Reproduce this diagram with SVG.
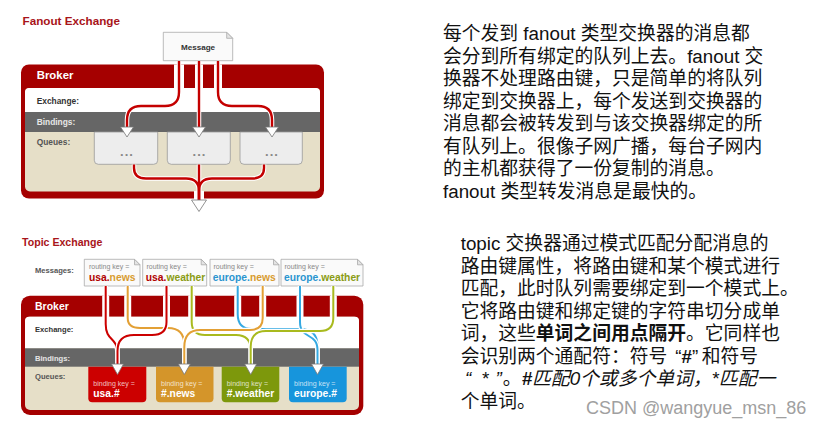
<svg xmlns="http://www.w3.org/2000/svg" width="828" height="430" viewBox="0 0 828 430">
<style>
.s{font-family:"Liberation Sans",Arial,sans-serif}
.ttl{font-family:"Liberation Sans",Arial,sans-serif;font-weight:bold;fill:#a8141a}
.lbl{font-family:"Liberation Sans",Arial,sans-serif;font-weight:bold}
.dots{font-family:"Liberation Sans",Arial,sans-serif;font-weight:bold;font-size:13px;fill:#888;letter-spacing:1px}
.cn{font-family:"Liberation Sans","Noto Sans CJK SC",sans-serif;font-size:18.8px;fill:#111}
.case{fill:none;stroke:#fff;stroke-width:4.5}
.fl{fill:none;stroke:#c40000;stroke-width:2.4}
.tl{fill:none;stroke-width:2}
.arr{fill:#fff;stroke:#777;stroke-width:0.8}
.gap{fill:#fff}
.msg{fill:#fafafa;stroke:#aaa;stroke-width:0.8}
.ear{fill:#e4e4e4;stroke:#aaa;stroke-width:0.8}
.rk{font-family:"Liberation Sans",Arial,sans-serif;font-size:7px;fill:#888}
.mk{font-family:"Liberation Sans",Arial,sans-serif;font-size:10.3px;font-weight:bold}
.bk{font-family:"Liberation Sans",Arial,sans-serif;font-size:7px;fill:#fff;fill-opacity:0.75}
.bv{font-family:"Liberation Sans",Arial,sans-serif;font-size:10.3px;font-weight:bold;fill:#fff}
</style>

<!-- ===== Fanout Exchange ===== -->
<g id="fanout-title"><text class="ttl" x="22.5" y="25.3" font-size="11.7">Fanout Exchange</text></g>

<g id="fanout-broker">
  <rect x="21" y="64.5" width="303" height="134" rx="8" fill="#a50000"/>
  <rect x="25" y="88" width="295" height="103.5" rx="5" fill="#e6dfc8"/>
  <path d="M25,112 V92 Q25,88 29,88 H316 Q320,88 320,92 V112 Z" fill="#fff"/>
  <rect x="25" y="112" width="295" height="20" fill="#666"/>
  <rect class="gap" x="174" y="64.5" width="10" height="24"/>
  <rect class="gap" x="195" y="64.5" width="8" height="24"/>
  <rect class="gap" x="214" y="64.5" width="8" height="24"/>
  <rect class="gap" x="194" y="191" width="10" height="8"/>
  <text class="lbl" x="36.7" y="79" font-size="11.4" fill="#fff">Broker</text>
  <text class="lbl" x="36.7" y="104.3" font-size="8.4" fill="#333">Exchange:</text>
  <text class="lbl" x="36.7" y="125" font-size="8.4" fill="#e6e6e6">Bindings:</text>
  <text class="lbl" x="36.7" y="145" font-size="8.4" fill="#555">Queues:</text>
</g>

<g id="fanout-message">
  <path class="msg" d="M163.3,32.3 H226.7 L232.7,38.3 V60.7 H163.3 Z"/>
  <path class="ear" d="M226.7,32.3 V38.3 H232.7 Z"/>
  <text class="lbl" x="198" y="49.5" font-size="8.1" fill="#333" text-anchor="middle">Message</text>
</g>

<g id="fanout-queue-1">
  <path d="M94.3,132 H157.7 V160.3 Q157.7,164.3 153.7,164.3 H98.3 Q94.3,164.3 94.3,160.3 Z" fill="#ededed" stroke="#999" stroke-width="0.8"/>
  <text class="dots" x="127" y="155.5" text-anchor="middle">...</text>
</g>
<g id="fanout-queue-2">
  <path d="M167.3,132 H230.3 V160.3 Q230.3,164.3 226.3,164.3 H171.3 Q167.3,164.3 167.3,160.3 Z" fill="#ededed" stroke="#999" stroke-width="0.8"/>
  <text class="dots" x="199.5" y="155.5" text-anchor="middle">...</text>
</g>
<g id="fanout-queue-3">
  <path d="M240,132 H302.3 V160.3 Q302.3,164.3 298.3,164.3 H244 Q240,164.3 240,160.3 Z" fill="#ededed" stroke="#999" stroke-width="0.8"/>
  <text class="dots" x="272" y="155.5" text-anchor="middle">...</text>
</g>

<g id="fanout-connectors">
  <path class="case" d="M179,61 V92 Q179,106 165,106 H141 Q127,106 127,120 V128"/>
  <path class="fl" d="M179,61 V92 Q179,106 165,106 H141 Q127,106 127,120 V128"/>
  <path class="case" d="M199,61 V128"/>
  <path class="fl" d="M199,61 V128"/>
  <path class="case" d="M218,61 V92 Q218,106 232,106 H258 Q272,106 272,120 V128"/>
  <path class="fl" d="M218,61 V92 Q218,106 232,106 H258 Q272,106 272,120 V128"/>
  <path class="case" d="M134,164.5 V168 Q134,178.5 146,178.5 H186 Q199,178.5 199,191 V201"/>
  <path class="case" d="M264,164.5 V168 Q264,178.5 252,178.5 H212 Q199,178.5 199,191 V201"/>
  <path class="case" d="M199,164.5 V201"/>
  <path class="fl" d="M134,164.5 V168 Q134,178.5 146,178.5 H186 Q199,178.5 199,191 V201"/>
  <path class="fl" d="M264,164.5 V168 Q264,178.5 252,178.5 H212 Q199,178.5 199,191 V201"/>
  <path class="fl" d="M199,164.5 V201"/>
  <path class="arr" d="M120.5,127 H133.5 L127,137 Z"/>
  <path class="arr" d="M192.5,127 H205.5 L199,137 Z"/>
  <path class="arr" d="M265.5,127 H278.5 L272,137 Z"/>
  <path class="arr" d="M191.5,200 H206.5 L199,211.5 Z"/>
</g>

<!-- ===== Topic Exchange ===== -->
<g id="topic-title"><text class="ttl" x="22" y="246" font-size="10.6">Topic Exchange</text></g>
<g id="topic-messages-label"><text class="lbl" x="35" y="273.4" font-size="7.6" fill="#555">Messages:</text></g>

<g id="topic-broker">
  <rect x="21" y="295.7" width="342.3" height="119.3" rx="9" fill="#a50000"/>
  <rect x="25" y="316.7" width="334" height="93.3" rx="5" fill="#e6dfc8"/>
  <path d="M25,348.3 V320.7 Q25,316.7 29,316.7 H355 Q359,316.7 359,320.7 V348.3 Z" fill="#fff"/>
  <rect x="25" y="348.3" width="334" height="18.4" fill="#666"/>
  <rect class="gap" x="102.2" y="295.7" width="7" height="21.5"/>
  <rect class="gap" x="124.2" y="295.7" width="7" height="21.5"/>
  <rect class="gap" x="163" y="295.7" width="7" height="21.5"/>
  <rect class="gap" x="188.2" y="295.7" width="7" height="21.5"/>
  <rect class="gap" x="234.2" y="295.7" width="7" height="21.5"/>
  <rect class="gap" x="259.2" y="295.7" width="7" height="21.5"/>
  <rect class="gap" x="296.5" y="295.7" width="7" height="21.5"/>
  <rect class="gap" x="329.8" y="295.7" width="7" height="21.5"/>
  <text class="lbl" x="35" y="309.5" font-size="10.5" fill="#fff">Broker</text>
  <text class="lbl" x="35" y="332.4" font-size="7.6" fill="#333">Exchange:</text>
  <text class="lbl" x="35" y="360.6" font-size="7.6" fill="#e6e6e6">Bindings:</text>
  <text class="lbl" x="35" y="379.4" font-size="7.6" fill="#555">Queues:</text>
</g>

<g id="msg-usa-news">
  <path class="msg" d="M84.3,259.3 H134.5 L140,264.8 V286 H84.3 Z"/>
  <path class="ear" d="M134.5,259.3 V264.8 H140 Z"/>
  <text class="rk" x="89" y="269.3">routing key =</text>
  <text class="mk" x="89" y="281"><tspan fill="#b00000">usa.</tspan><tspan fill="#d89c30">news</tspan></text>
</g>
<g id="msg-usa-weather">
  <path class="msg" d="M142.7,259.3 H201.2 L206.7,264.8 V286 H142.7 Z"/>
  <path class="ear" d="M201.2,259.3 V264.8 H206.7 Z"/>
  <text class="rk" x="146.5" y="269.3">routing key =</text>
  <text class="mk" x="145.8" y="281"><tspan fill="#b00000">usa.</tspan><tspan fill="#8a9c14">weather</tspan></text>
</g>
<g id="msg-europe-news">
  <path class="msg" d="M210,259.3 H273.5 L279,264.8 V286 H210 Z"/>
  <path class="ear" d="M273.5,259.3 V264.8 H279 Z"/>
  <text class="rk" x="213.5" y="269.3">routing key =</text>
  <text class="mk" x="212.7" y="281"><tspan fill="#2a95d0">europe.</tspan><tspan fill="#d89c30">news</tspan></text>
</g>
<g id="msg-europe-weather">
  <path class="msg" d="M281,259.3 H357.5 L363,264.8 V286 H281 Z"/>
  <path class="ear" d="M357.5,259.3 V264.8 H363 Z"/>
  <text class="rk" x="284.5" y="269.3">routing key =</text>
  <text class="mk" x="284" y="281"><tspan fill="#2a95d0">europe.</tspan><tspan fill="#8a9c14">weather</tspan></text>
</g>

<g id="queue-usa">
  <path d="M88.3,366.7 H146.3 V398.3 Q146.3,402.3 142.3,402.3 H92.3 Q88.3,402.3 88.3,398.3 Z" fill="#cc0000"/>
  <text class="bk" x="93.3" y="385.7">binding key =</text>
  <text class="bv" x="93.3" y="396.5">usa.#</text>
</g>
<g id="queue-news">
  <path d="M156,366.7 H213.5 V398.3 Q213.5,402.3 209.5,402.3 H160 Q156,402.3 156,398.3 Z" fill="#d4952a"/>
  <text class="bk" x="161" y="385.7">binding key =</text>
  <text class="bv" x="161" y="396.5">#.news</text>
</g>
<g id="queue-weather">
  <path d="M221.7,366.7 H279.3 V398.3 Q279.3,402.3 275.3,402.3 H225.7 Q221.7,402.3 221.7,398.3 Z" fill="#7d980c"/>
  <text class="bk" x="226.7" y="385.7">binding key =</text>
  <text class="bv" x="226.7" y="396.5">#.weather</text>
</g>
<g id="queue-europe">
  <path d="M289,366.7 H346.7 V398.3 Q346.7,402.3 342.7,402.3 H293 Q289,402.3 289,398.3 Z" fill="#1795dc"/>
  <text class="bk" x="294" y="385.7">binding key =</text>
  <text class="bv" x="294" y="396.5">europe.#</text>
</g>

<g id="topic-connectors">
  <path class="case" d="M105.7,286 V324 C105.7,342 117.5,336 117.5,354 V365"/>
  <path class="tl" stroke="#cc0000" d="M105.7,286 V324 C105.7,342 117.5,336 117.5,354 V365"/>
  <path class="case" d="M127.7,286 V318 Q127.7,328 140,328 H168 Q184.3,328 184.3,345 V365"/>
  <path class="tl" stroke="#e3a035" d="M127.7,286 V318 Q127.7,328 140,328 H168 Q184.3,328 184.3,345 V365"/>
  <path class="case" d="M166.5,286 V322 Q166.5,335 152,335 H134 Q117.5,335 117.5,351 V365"/>
  <path class="tl" stroke="#cc0000" d="M166.5,286 V322 Q166.5,335 152,335 H134 Q117.5,335 117.5,351 V365"/>
  <path class="case" d="M191.7,286 V322 Q191.7,335 205,335 H236 Q250.7,335 250.7,350 V365"/>
  <path class="tl" stroke="#a9ba1e" d="M191.7,286 V322 Q191.7,335 205,335 H236 Q250.7,335 250.7,350 V365"/>
  <path class="case" d="M237.7,286 V314 Q237.7,329 252,329 H300 Q317.5,329 317.5,346 V365"/>
  <path class="tl" stroke="#35a9e2" d="M237.7,286 V314 Q237.7,329 252,329 H300 Q317.5,329 317.5,346 V365"/>
  <path class="case" d="M262.7,286 V318 Q262.7,330 250,330 H200 Q184.3,330 184.3,347 V365"/>
  <path class="tl" stroke="#e3a035" d="M262.7,286 V318 Q262.7,330 250,330 H200 Q184.3,330 184.3,347 V365"/>
  <path class="case" d="M300,286 V322 C300,340 317.5,332 317.5,350 V365"/>
  <path class="tl" stroke="#35a9e2" d="M300,286 V322 C300,340 317.5,332 317.5,350 V365"/>
  <path class="case" d="M333.3,286 V318 Q333.3,331 320,331 H266 Q250.7,331 250.7,347 V365"/>
  <path class="tl" stroke="#a9ba1e" d="M333.3,286 V318 Q333.3,331 320,331 H266 Q250.7,331 250.7,347 V365"/>
  <path class="arr" d="M111.5,364 H123.5 L117.5,374.5 Z"/>
  <path class="arr" d="M178.3,364 H190.3 L184.3,374.5 Z"/>
  <path class="arr" d="M244.7,364 H256.7 L250.7,374.5 Z"/>
  <path class="arr" d="M311.5,364 H323.5 L317.5,374.5 Z"/>
</g>

<!-- ===== Right-hand text ===== -->
<g id="fanout-text" class="cn">
  <text x="443" y="40">每个发到 fanout 类型交换器的消息都</text>
  <text x="443" y="62.5">会分到所有绑定的队列上去。fanout 交</text>
  <text x="443" y="85">换器不处理路由键，只是简单的将队列</text>
  <text x="443" y="107.5">绑定到交换器上，每个发送到交换器的</text>
  <text x="443" y="130">消息都会被转发到与该交换器绑定的所</text>
  <text x="443" y="152.5">有队列上。很像子网广播，每台子网内</text>
  <text x="443" y="175">的主机都获得了一份复制的消息。</text>
  <text x="443" y="197.5">fanout 类型转发消息是最快的。</text>
</g>

<g id="topic-text" class="cn">
  <text x="460.7" y="250">topic 交换器通过模式匹配分配消息的</text>
  <text x="460.7" y="272.5">路由键属性，将路由键和某个模式进行</text>
  <text x="460.7" y="295">匹配，此时队列需要绑定到一个模式上。</text>
  <text x="460.7" y="317.5">它将路由键和绑定键的字符串切分成单</text>
  <text x="460.7" y="340">词，这些<tspan font-weight="bold">单词之间用点隔开</tspan>。它同样也</text>
  <text x="460.7" y="362.5">会识别两个通配符：符号<tspan dx="8">“</tspan><tspan font-weight="bold">#</tspan>”<tspan dx="3.4">和符号</tspan></text>
  <text x="460.7" y="385"><tspan dx="4.3" font-style="italic">“</tspan><tspan dx="10" font-style="italic">*</tspan><tspan dx="7" font-style="italic">”</tspan><tspan dx="1">。</tspan><tspan font-weight="bold" font-style="italic">#</tspan><tspan font-style="italic">匹配0个或多个单词，*匹配一</tspan></text>
  <text x="460.7" y="407.5">个单词。</text>
</g>

<g id="watermark"><text class="s" x="586" y="414" font-size="18" fill="#a0a0a0">CSDN @wangyue_msn_86</text></g>
</svg>
